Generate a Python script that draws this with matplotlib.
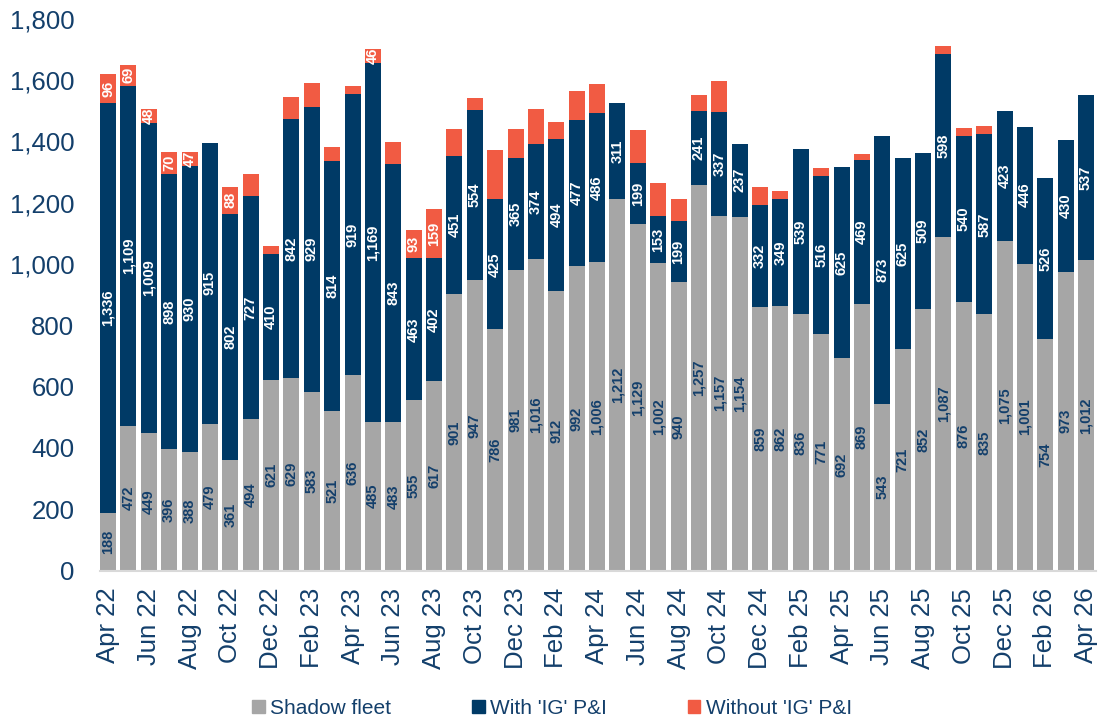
import numpy as np
import matplotlib
matplotlib.use('agg')
import matplotlib.pyplot as plt
from matplotlib.patches import Patch

plt.rcParams['font.family'] = ['Liberation Sans', 'DejaVu Sans']

# monthly counts, Apr 22 .. Apr 26
shadow = [188, 472, 449, 396, 388, 479, 361, 494, 621, 629, 583, 521, 636,
          485, 483, 555, 617, 901, 947, 786, 981, 1016, 912, 992, 1006,
          1212, 1129, 1002, 940, 1257, 1157, 1154, 859, 862, 836, 771, 692,
          869, 543, 721, 852, 1087, 876, 835, 1075, 1001, 754, 973, 1012]
with_ig = [1336, 1109, 1009, 898, 930, 915, 802, 727, 410, 842, 929, 814, 919,
           1169, 843, 463, 402, 451, 554, 425, 365, 374, 494, 477, 486,
           311, 199, 153, 199, 241, 337, 237, 332, 349, 539, 516, 625,
           469, 873, 625, 509, 598, 540, 587, 423, 446, 526, 430, 537]
without_ig = [96, 69, 48, 70, 47, 0, 88, 72, 26, 72, 78, 45, 26,
              46, 72, 93, 159, 88, 40, 160, 95, 115, 58, 95, 95,
              0, 108, 108, 72, 52, 102, 0, 58, 27, 0, 26, 0,
              20, 0, 0, 0, 26, 26, 26, 0, 0, 0, 0, 0]
# only these orange segments carry a value label in the original
without_labelled = [0, 1, 2, 3, 4, 6, 13, 15, 16]

tick_labels = ["Apr 22", "Jun 22", "Aug 22", "Oct 22", "Dec 22", "Feb 23",
               "Apr 23", "Jun 23", "Aug 23", "Oct 23", "Dec 23", "Feb 24",
               "Apr 24", "Jun 24", "Aug 24", "Oct 24", "Dec 24", "Feb 25",
               "Apr 25", "Jun 25", "Aug 25", "Oct 25", "Dec 25", "Feb 26",
               "Apr 26"]

GREY = '#A6A6A6'
NAVY = '#003A66'
ORANGE = '#F15B43'
TEXT = '#133F6B'

x = np.arange(len(shadow))
shadow = np.array(shadow)
with_ig = np.array(with_ig)
without_ig = np.array(without_ig)

fig = plt.figure(figsize=(11.04, 7.18), dpi=100)
ax = fig.add_axes([100 / 1104, 1 - 570.5 / 718, 996 / 1104, 552 / 718])

w = 0.785
b1 = ax.bar(x, shadow, width=w, color=GREY)
b2 = ax.bar(x, with_ig, width=w, bottom=shadow, color=NAVY)
b3 = ax.bar(x, without_ig, width=w, bottom=shadow + with_ig, color=ORANGE)

lab_kw = dict(label_type='center', rotation=90, fontsize=10.5, fontweight='bold')
ax.bar_label(b1, labels=[f"{v:,}" for v in shadow], color=TEXT, **lab_kw)
ax.bar_label(b2, labels=[f"{v:,}" for v in with_ig], color='white', **lab_kw)
ax.bar_label(b3, labels=[f"{v:,}" if i in without_labelled else ''
                         for i, v in enumerate(without_ig)],
             color='white', **lab_kw)

ax.set_xlim(-0.393, len(shadow) - 1 + 0.49)
ax.set_ylim(0, 1800)
ax.set_yticks(range(0, 1801, 200))
ax.set_yticklabels([f"{v:,}" for v in range(0, 1801, 200)])
ax.set_xticks(x[::2])
ax.set_xticklabels(tick_labels, rotation=90)
ax.tick_params(axis='y', length=0, pad=18.5, labelsize=18.5, labelcolor=TEXT)
ax.tick_params(axis='x', length=0, pad=12.5, labelsize=18.5, labelcolor=TEXT)

for s in ['top', 'right', 'left']:
    ax.spines[s].set_visible(False)
ax.spines['bottom'].set_color('#D9D9D9')
ax.spines['bottom'].set_linewidth(1.5)

handles = [Patch(color=GREY, label='Shadow fleet'),
           Patch(color=NAVY, label="With 'IG' P&I"),
           Patch(color=ORANGE, label="Without 'IG' P&I")]
leg = fig.legend(handles=handles, loc='center', bbox_to_anchor=(0.5, 1 - 708 / 718),
                 ncol=3, frameon=False, fontsize=15, handlelength=0.6,
                 handleheight=0.6, handletextpad=0.25, columnspacing=3.9)
for t in leg.get_texts():
    t.set_color(TEXT)

fig.savefig('out.png', dpi=100)
